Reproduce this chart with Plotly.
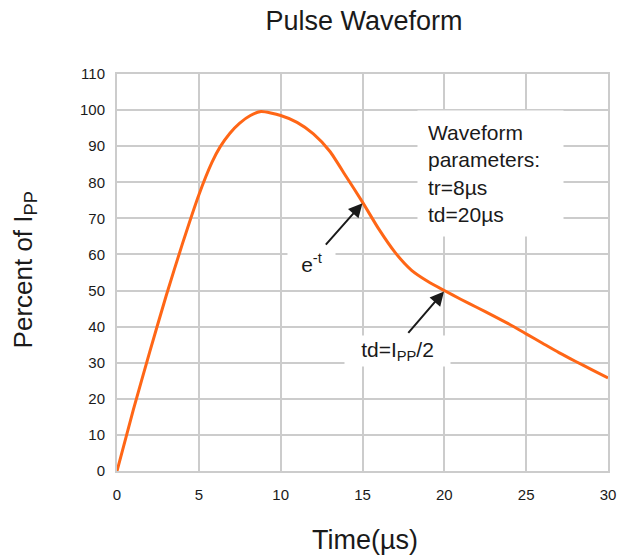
import plotly.graph_objects as go

# Data
time_us = [0, 1, 2, 3, 4, 5, 5.8, 6.3, 6.9, 7.5, 8.15, 8.8,
           10, 11, 12, 13, 14, 15, 16, 17, 18, 19, 20, 21, 22, 23, 24, 25, 26,
           27, 28, 29, 30]
percent_ipp = [0, 17, 33, 48.5, 63, 76.5, 85.5, 89.8, 93.6, 96.4, 98.5, 99.6,
               98.5, 96.6, 93.4, 88.6, 81.6, 74.5, 67, 60.5, 55.6, 52.5, 50, 47.6,
               45.3, 43, 40.6, 38, 35.4, 32.8, 30.4, 28.1, 25.8]
x_ticks = [0, 5, 10, 15, 20, 25, 30]
y_ticks = [0, 10, 20, 30, 40, 50, 60, 70, 80, 90, 100, 110]

FONT = "Liberation Sans, Arial, sans-serif"
GRID = "#cccccc"
TXT = "#1a1a1a"

FIG_W, FIG_H = 618, 559

fig = go.Figure()
fig.add_trace(go.Scatter(
    x=time_us, y=percent_ipp, mode="lines",
    line=dict(color="#ff6616", width=3, shape="spline", smoothing=0.6),
    showlegend=False, hoverinfo="skip"))

axis_common = dict(showgrid=True, gridcolor=GRID, gridwidth=2,
                   showline=True, linecolor=GRID, linewidth=2, mirror=True,
                   zeroline=False, ticks="", automargin=False,
                   tickfont=dict(family=FONT, size=15, color=TXT))
fig.update_xaxes(range=[0, 30], tickvals=x_ticks, ticklabelstandoff=9, **axis_common)
fig.update_yaxes(range=[0, 110], tickvals=y_ticks, ticklabelstandoff=7, **axis_common)

annotations = [
    # axis titles
    dict(text="Time(µs)", xref="paper", yref="paper", x=0.505, y=-0.175,
         xanchor="center", yanchor="middle", showarrow=False,
         font=dict(family=FONT, size=27, color=TXT)),
    dict(text="Percent of I<sub>PP</sub>", xref="paper", yref="paper",
         x=-0.188, y=0.507, xanchor="center", yanchor="middle",
         textangle=-90, showarrow=False,
         font=dict(family=FONT, size=26, color=TXT)),
    # parameter box
    dict(text="Waveform<br>parameters:<br>tr=8µs<br>td=20µs",
         xref="paper", yref="paper", x=0.7604, y=0.7497,
         xanchor="center", yanchor="middle", align="left", width=125,
         borderpad=10, bgcolor="white", showarrow=False,
         font=dict(family=FONT, size=21, color=TXT)),
    # label texts
    dict(text="e<sup>-t</sup>", xref="x", yref="y", x=11.9, y=57.7,
         xanchor="center", yanchor="middle", width=43, borderpad=2,
         bgcolor="white", showarrow=False,
         font=dict(family=FONT, size=21, color=TXT)),
    dict(text="td=I<sub>PP</sub>/2", xref="x", yref="y", x=17.12, y=33.3,
         xanchor="center", yanchor="middle", width=101, borderpad=2,
         bgcolor="white", showarrow=False,
         font=dict(family=FONT, size=21, color=TXT)),
    # arrows
    dict(text="", xref="x", yref="y", x=15, y=74.2, ax=-38, ay=43,
         showarrow=True, arrowhead=2, arrowsize=1.4, arrowwidth=2,
         arrowcolor="#1a1a1a", standoff=0),
    dict(text="", xref="x", yref="y", x=19.98, y=49.75, ax=-37, ay=43,
         showarrow=True, arrowhead=2, arrowsize=1.4, arrowwidth=2,
         arrowcolor="#1a1a1a", standoff=0),
]

fig.update_layout(
    width=FIG_W, height=FIG_H, autosize=False,
    margin=dict(l=117, r=10, t=74, b=88, pad=0, autoexpand=False),
    paper_bgcolor="white", plot_bgcolor="white",
    title=dict(text="Pulse Waveform", x=364 / FIG_W, xanchor="center",
               y=1 - 21 / FIG_H, yanchor="middle",
               font=dict(family=FONT, size=27, color=TXT)),
    annotations=annotations,
)

# remove the default page margin / scrollbars so the figure fills the window
post = ("document.documentElement.style.margin='0';"
        "document.documentElement.style.overflow='hidden';"
        "document.body.style.margin='0';"
        "document.body.style.overflow='hidden';"
        "Plotly.relayout('{plot_id}', {width: %d, height: %d});" % (FIG_W, FIG_H))

fig.write_html("out.html", post_script=post,
               config={"displayModeBar": False, "staticPlot": True})
